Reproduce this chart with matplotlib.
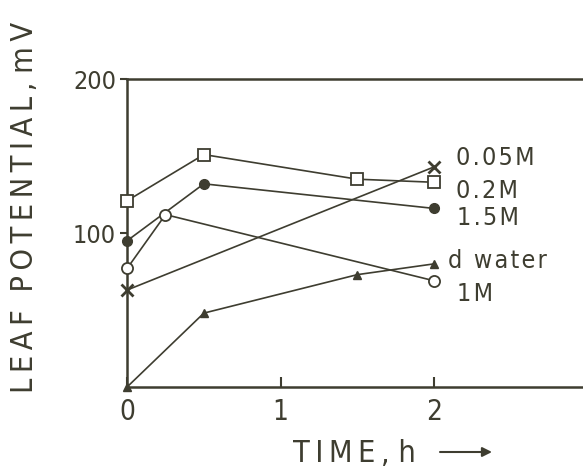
import matplotlib
matplotlib.use("Agg")
import matplotlib.pyplot as plt

plt.rcParams['font.family'] = ['DejaVu Sans']
plt.rcParams['font.stretch'] = 'condensed'

# ================= data =================
x_005 = [0.0, 2.0]
y_005 = [63, 143]

x_02 = [0.0, 0.5, 1.5, 2.0]
y_02 = [121, 151, 135, 133]

x_15 = [0.0, 0.5, 2.0]
y_15 = [95, 132, 116]

x_1m = [0.0, 0.25, 2.0]
y_1m = [77, 112, 69]

x_dw = [0.0, 0.5, 1.5, 2.0]
y_dw = [0, 48, 73, 80]

labels = ["0.05M", "0.2M", "1.5M", "d water", "1M"]
label_x = [2.14, 2.14, 2.15, 2.09, 2.15]
label_y = [144, 123, 105, 77, 56]

x_ticks = [0, 1, 2]
y_ticks = [100, 200]

ink = '#3e3d30'


def spaced(s, sep='\u2009'):
    # wide letter spacing like the hand lettering
    return sep.join(s)


# ================= plot =================
fig = plt.figure(figsize=(5.83, 4.70), dpi=100)
fig.patch.set_facecolor('white')
ax = fig.add_axes([0.218, 0.1766, 0.79, 0.655])

lw = 1.2
kw = dict(color=ink, lw=lw, clip_on=False, zorder=3)
ax.plot(x_005, y_005, marker='x', ms=9, mew=2, **kw)
ax.plot(x_02, y_02, marker='s', ms=8, mfc='white', mew=1.3, **kw)
ax.plot(x_15, y_15, marker='o', ms=7, mfc=ink, **kw)
ax.plot(x_1m, y_1m, marker='o', ms=8, mfc='white', mew=1.3, **kw)
ax.plot(x_dw, y_dw, marker='^', ms=6, mfc=ink, **kw)

for lab, xx, yy in zip(labels, label_x, label_y):
    ax.text(xx, yy, spaced(lab, '\u200a'), fontsize=18, color=ink,
            va='baseline', ha='left')

ax.set_xlim(0, 3.0)
ax.set_ylim(0, 200)

ax.set_xticks(x_ticks)
ax.set_yticks(y_ticks)
ax.tick_params(axis='x', direction='in', length=7, width=1.5, colors=ink,
               labelsize=20, pad=8)
ax.tick_params(axis='y', direction='out', length=5, width=1.5, colors=ink,
               labelsize=18, pad=3)

for side in ['left', 'bottom', 'top']:
    ax.spines[side].set_color(ink)
    ax.spines[side].set_linewidth(1.8)
ax.spines['right'].set_visible(False)

fig.text(0.042, 1 - 207 / 470,
         spaced("LEAF") + "  " + spaced("POTENTIAL,") + " " + spaced("mV"),
         rotation=90, fontsize=22, color=ink, ha='center', va='center')
fig.text(293 / 583, 0.016, spaced("TIME,") + " " + "h", fontsize=22, color=ink,
         ha='left', va='baseline')
ax.annotate("", xy=(492 / 583, 1 - 452 / 470), xytext=(440 / 583, 1 - 452 / 470),
            xycoords='figure fraction', textcoords='figure fraction',
            arrowprops=dict(arrowstyle='-|>', color=ink, lw=1.5,
                            mutation_scale=14, shrinkA=0, shrinkB=0))

plt.savefig("out.png", dpi=100, facecolor='white')
